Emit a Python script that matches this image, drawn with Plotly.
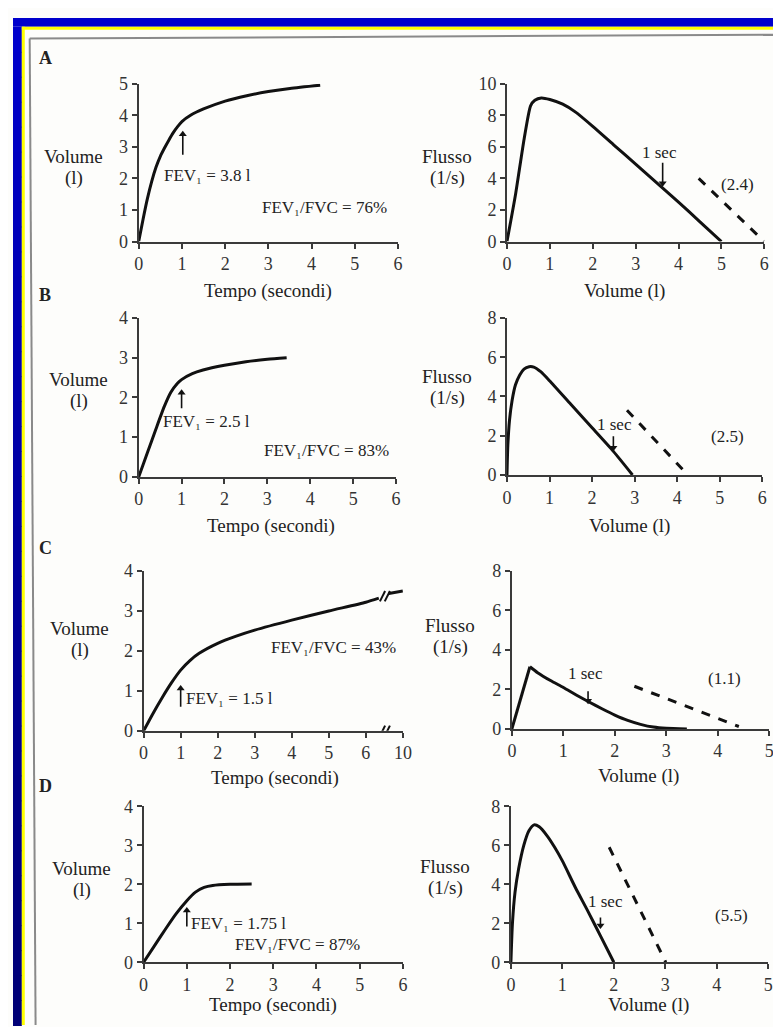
import plotly.graph_objects as go

W, H = 781, 1027

# ---------------- DATA ----------------
# Panel A (normal)
a_t = [0, 0.1, 0.2, 0.3, 0.4, 0.5, 0.6, 0.7, 0.8, 0.9, 1.0, 1.2, 1.5, 2.0, 2.5, 3.0, 3.5, 4.2]
a_v = [0, 0.7, 1.35, 1.9, 2.35, 2.7, 2.97, 3.22, 3.45, 3.64, 3.8, 4.0, 4.2, 4.45, 4.62, 4.75, 4.85, 4.95]
a_fv_vol = [0, 0.2, 0.4, 0.55, 0.65, 0.8, 1.0, 1.3, 1.6, 2.0, 2.5, 3.0, 3.5, 4.0, 4.5, 5.0]
a_fv_flow = [0, 3.0, 6.5, 8.6, 8.95, 9.1, 9.0, 8.7, 8.2, 7.3, 6.1, 4.9, 3.7, 2.5, 1.25, 0]
a_dash_vol = [4.47, 6.0]
a_dash_flow = [4.0, 0]

# Panel B
b_t = [0, 0.2, 0.4, 0.6, 0.75, 0.9, 1.0, 1.25, 1.5, 2.0, 2.5, 3.0, 3.45]
b_v = [0, 0.6, 1.2, 1.78, 2.13, 2.35, 2.45, 2.6, 2.69, 2.81, 2.9, 2.96, 3.0]
b_fv_vol = [0, 0.02, 0.06, 0.12, 0.2, 0.3, 0.4, 0.52, 0.63, 0.8, 1.0, 1.5, 2.0, 2.5, 2.95]
b_fv_flow = [0, 1.5, 2.8, 3.8, 4.6, 5.1, 5.4, 5.52, 5.5, 5.25, 4.8, 3.6, 2.4, 1.2, 0]
b_dash_vol = [2.82, 4.25]
b_dash_flow = [3.3, 0]

# Panel C (obstructive) -- time axis broken between 6 and 10 s
c_t = [0, 0.25, 0.5, 0.75, 1.0, 1.25, 1.5, 2.0, 2.5, 3.0, 4.0, 5.0, 6.0, 6.35]
c_v = [0, 0.43, 0.83, 1.2, 1.52, 1.76, 1.94, 2.19, 2.37, 2.52, 2.77, 3.0, 3.22, 3.32]
c_t_after = [9.0, 10.0]
c_v_after = [3.44, 3.5]
c_fv_rise_vol = [0, 0.35]
c_fv_rise_flow = [0, 3.15]
c_fv_vol = [0.35, 0.5, 0.75, 1.0, 1.25, 1.5, 1.75, 2.0, 2.25, 2.5, 2.75, 3.0, 3.4]
c_fv_flow = [3.15, 2.85, 2.45, 2.1, 1.72, 1.36, 1.02, 0.7, 0.43, 0.23, 0.09, 0.03, 0]
c_dash_vol = [2.38, 4.41]
c_dash_flow = [2.16, 0.12]

# Panel D (restrictive)
d_t = [0, 0.25, 0.5, 0.75, 1.0, 1.2, 1.4, 1.6, 2.0, 2.5]
d_v = [0, 0.42, 0.84, 1.24, 1.58, 1.8, 1.92, 1.97, 2.0, 2.01]
d_fv_vol = [0, 0.03, 0.08, 0.15, 0.25, 0.35, 0.45, 0.55, 0.7, 0.85, 1.0, 1.25, 1.5, 1.75, 2.0]
d_fv_flow = [0, 2.0, 3.6, 4.8, 6.0, 6.75, 7.05, 6.95, 6.5, 5.9, 5.2, 3.85, 2.6, 1.3, 0]
d_dash_vol = [1.91, 3.01]
d_dash_flow = [5.9, 0]

# Tick labels
time_ticks = [0, 1, 2, 3, 4, 5, 6]
c_time_ticktext = ["0", "1", "2", "3", "4", "5", "6", "10"]
vol_ticks_a = [0, 1, 2, 3, 4, 5]
vol_ticks_bcd = [0, 1, 2, 3, 4]
flow_ticks_a = [0, 2, 4, 6, 8, 10]
flow_ticks = [0, 2, 4, 6, 8]

# Texts
fev1_text = ["FEV₁ = 3.8 l", "FEV₁ = 2.5 l", "FEV₁ = 1.5 l", "FEV₁ = 1.75 l"]
ratio_text = ["FEV₁/FVC = 76%", "FEV₁/FVC = 83%", "FEV₁/FVC = 43%", "FEV₁/FVC = 87%"]
paren_text = ["(2.4)", "(2.5)", "(1.1)", "(5.5)"]


def c_pos(t):
    # broken axis: 10 s sits one unit after 6 s
    return [x if x <= 6.5 else 7 - (10 - x) * 0.38 for x in t]


# ---------------- FIGURE ----------------
FONT = "Liberation Serif"
INK = "#111111"
AX = "#3a3a3a"
PAPER = "#fdfdfb"

fig = go.Figure()

# axis geometry (pixels): x0, x1, ybottom, ytop, xrange, yrange
panels = [
    (128, 392, 228, 67, [0, 6], [0, 5], time_ticks, vol_ticks_a),
    (503, 765, 228, 67, [0, 6], [0, 10], [0, 1, 2, 3, 4, 5, 6], flow_ticks_a),
    (128, 390, 468, 306, [0, 6], [0, 4], time_ticks, vol_ticks_bcd),
    (503, 763, 466, 306, [0, 6], [0, 8], [0, 1, 2, 3, 4, 5, 6], flow_ticks),
    (133, 397, 727, 564, [0, 7], [0, 4], time_ticks + [7], vol_ticks_bcd),
    (508, 770, 725, 564, [0, 5], [0, 8], [0, 1, 2, 3, 4, 5], flow_ticks),
    (133, 397, 963, 804, [0, 6], [0, 4], time_ticks, vol_ticks_bcd),
    (507, 769, 963, 804, [0, 5], [0, 8], [0, 1, 2, 3, 4, 5], flow_ticks),
]

for i, (x0, x1, yb, yt, xr, yr, xt, yt_) in enumerate(panels):
    n = "" if i == 0 else str(i + 1)
    common = dict(showline=True, linecolor=AX, linewidth=2, ticks="outside", ticklen=5,
                  tickwidth=2, tickcolor=AX, showgrid=False, zeroline=False,
                  tickfont=dict(family=FONT, size=18, color="#333333"), fixedrange=True)
    xa = dict(domain=[x0 / W, x1 / W], range=xr, anchor="y" + n, tickvals=xt, **common)
    if i == 4:
        xa["ticktext"] = c_time_ticktext
    ya = dict(domain=[1 - yb / H, 1 - yt / H], range=yr, anchor="x" + n, tickvals=yt_, **common)
    fig.update_layout(**{"xaxis" + n: xa, "yaxis" + n: ya})

solid = dict(color=INK, width=3)
dashed = dict(color=INK, width=3, dash="dash")


def add(x, y, i, line, shape="spline"):
    n = "" if i == 0 else str(i + 1)
    fig.add_trace(go.Scatter(x=x, y=y, mode="lines", line=dict(shape=shape, smoothing=0.6, **line),
                             xaxis="x" + n, yaxis="y" + n, showlegend=False, hoverinfo="skip"))


add(a_t, a_v, 0, solid)
add(a_fv_vol, a_fv_flow, 1, solid)
add(a_dash_vol, a_dash_flow, 1, dashed, "linear")
add(b_t, b_v, 2, solid)
add(b_fv_vol, b_fv_flow, 3, solid)
add(b_dash_vol, b_dash_flow, 3, dashed, "linear")
add(c_pos(c_t), c_v, 4, solid)
add(c_pos(c_t_after), c_v_after, 4, solid, "linear")
add(c_fv_rise_vol, c_fv_rise_flow, 5, solid, "linear")
add(c_fv_vol, c_fv_flow, 5, solid)
add(c_dash_vol, c_dash_flow, 5, dashed, "linear")
add(d_t, d_v, 6, solid)
add(d_fv_vol, d_fv_flow, 7, solid)
add(d_dash_vol, d_dash_flow, 7, dashed, "linear")

ann = []
shapes = []


def txt(text, x, y, i, xanchor="center", size=17):
    n = "" if i == 0 else str(i + 1)
    ann.append(dict(text=text, x=x, y=y, xref="x" + n, yref="y" + n, showarrow=False,
                    xanchor=xanchor, yanchor="middle", font=dict(family=FONT, size=size, color="#222222")))


def arrow(x, y_tail, y_head, i):
    # shaft as a thin line trace, head as a triangle marker
    n = "" if i == 0 else str(i + 1)
    up = y_head > y_tail
    fig.add_trace(go.Scatter(x=[x, x], y=[y_tail, y_head], mode="lines",
                             line=dict(color=INK, width=1.6), xaxis="x" + n, yaxis="y" + n,
                             showlegend=False, hoverinfo="skip"))
    fig.add_trace(go.Scatter(x=[x], y=[y_head], mode="markers",
                             marker=dict(symbol="triangle-up" if up else "triangle-down", size=7,
                                         color=INK, line=dict(width=0)),
                             xaxis="x" + n, yaxis="y" + n, showlegend=False, hoverinfo="skip",
                             cliponaxis=False))


def ptxt(text, px, py, size=19, bold=False):
    ann.append(dict(text=("<b>%s</b>" % text) if bold else text, x=px / W, y=1 - py / H,
                    xref="paper", yref="paper", showarrow=False, xanchor="center", yanchor="middle",
                    font=dict(family=FONT, size=size, color="#222222")))


# Panel A
txt(fev1_text[0], 0.55, 2.1, 0, "left")
txt(ratio_text[0], 4.3, 1.09, 0)
arrow(1.02, 2.75, 3.4, 0)
txt("1 sec", 3.55, 5.65, 1)
txt(paren_text[0], 5.38, 3.6, 1)
arrow(3.63, 5.0, 3.7, 1)
# Panel B
txt(fev1_text[1], 0.52, 1.39, 2, "left")
txt(ratio_text[1], 4.37, 0.67, 2)
arrow(1.0, 1.73, 2.12, 2)
txt("1 sec", 2.53, 2.55, 3)
txt(paren_text[1], 5.17, 1.97, 3)
arrow(2.5, 1.97, 1.38, 3)
# Panel C
txt(fev1_text[2], 1.08, 0.8, 4, "left")
txt(ratio_text[2], 5.13, 2.09, 4)
arrow(1.0, 0.6, 1.06, 4)
txt("1 sec", 1.43, 2.82, 5)
txt(paren_text[2], 4.14, 2.57, 5)
arrow(1.48, 1.91, 1.42, 5)
# Panel D
txt(fev1_text[3], 1.05, 1.0, 6, "left")
txt(ratio_text[3], 3.57, 0.46, 6)
arrow(1.0, 0.92, 1.33, 6)
txt("1 sec", 1.83, 3.1, 7)
txt(paren_text[3], 4.29, 2.4, 7)
arrow(1.74, 2.3, 1.88, 7)

# axis titles (two lines as separate labels) and panel letters (pixel positions)
for (px, py) in [(62, 152), (67, 380), (68, 634), (70, 878)]:
    ptxt("Volume", px, py - 11)
    ptxt("(l)", px, py + 11)
for (px, py) in [(442, 152), (442, 377), (445, 631), (440, 876)]:
    ptxt("Flusso", px, py - 11)
    ptxt("(1/s)", px, py + 11)
for (px, py) in [(260, 278), (263, 518), (267, 775), (265, 1007)]:
    ptxt("Tempo (secondi)", px, py)
for (px, py) in [(623, 278), (628, 518), (637, 773), (647, 1007)]:
    ptxt("Volume (l)", px, py)
for (lab, py) in [("A", 41), ("B", 282), ("C", 541), ("D", 783)]:
    ptxt(lab, 33, py, size=18, bold=True)

# axis-break marks on panel C (time axis)
shapes.append(dict(type="line", xref="x5", yref="y5", x0=6.47, x1=6.56, y0=0, y1=0,
                   line=dict(color=PAPER, width=4)))
for xb in [6.45, 6.58]:
    for yc in [0.0, 3.37]:
        shapes.append(dict(type="line", xref="x5", yref="y5", x0=xb - 0.07, x1=xb + 0.07,
                           y0=yc - 0.13, y1=yc + 0.13, line=dict(color=INK, width=2)))

# frame: blue border, yellow line, grey page edge
BLUE_TOP = (0, 0, 204)
BLUE_BOT = (0, 0, 118)
shapes.append(dict(type="rect", xref="paper", yref="paper", x0=0, x1=1, y0=1 - 9 / H, y1=1,
                   fillcolor="rgb(0,0,204)", line=dict(width=0), layer="below"))
nb = 40
for k in range(nb):
    f = k / (nb - 1)
    c = tuple(int(BLUE_TOP[j] + (BLUE_BOT[j] - BLUE_TOP[j]) * f) for j in range(3))
    ya0 = 9 + (H - 9) * k / nb
    ya1 = 9 + (H - 9) * (k + 1) / nb + 1
    shapes.append(dict(type="rect", xref="paper", yref="paper", x0=0, x1=9 / W,
                       y0=1 - ya1 / H, y1=1 - ya0 / H, fillcolor="rgb(%d,%d,%d)" % c,
                       line=dict(width=0), layer="below"))
shapes.append(dict(type="rect", xref="paper", yref="paper", x0=9 / W, x1=1, y0=1 - 12 / H, y1=1 - 9 / H,
                   fillcolor="#ffff00", line=dict(width=0), layer="below"))
shapes.append(dict(type="rect", xref="paper", yref="paper", x0=9 / W, x1=12 / W, y0=0, y1=1 - 9 / H,
                   fillcolor="#ffff00", line=dict(width=0), layer="below"))
shapes.append(dict(type="line", xref="paper", yref="paper", x0=17 / W, x1=1, y0=1 - 21 / H, y1=1 - 17 / H,
                   line=dict(color="#8a8a8a", width=2), layer="below"))
shapes.append(dict(type="line", xref="paper", yref="paper", x0=17 / W, x1=23 / W, y0=1 - 21 / H, y1=0,
                   line=dict(color="#8a8a8a", width=2), layer="below"))

fig.update_layout(width=W, height=H, margin=dict(l=0, r=0, t=0, b=0),
                  paper_bgcolor=PAPER, plot_bgcolor="rgba(0,0,0,0)",
                  showlegend=False, annotations=ann, shapes=shapes,
                  font=dict(family=FONT, color="#222222"))

fig.write_html("out.html")
